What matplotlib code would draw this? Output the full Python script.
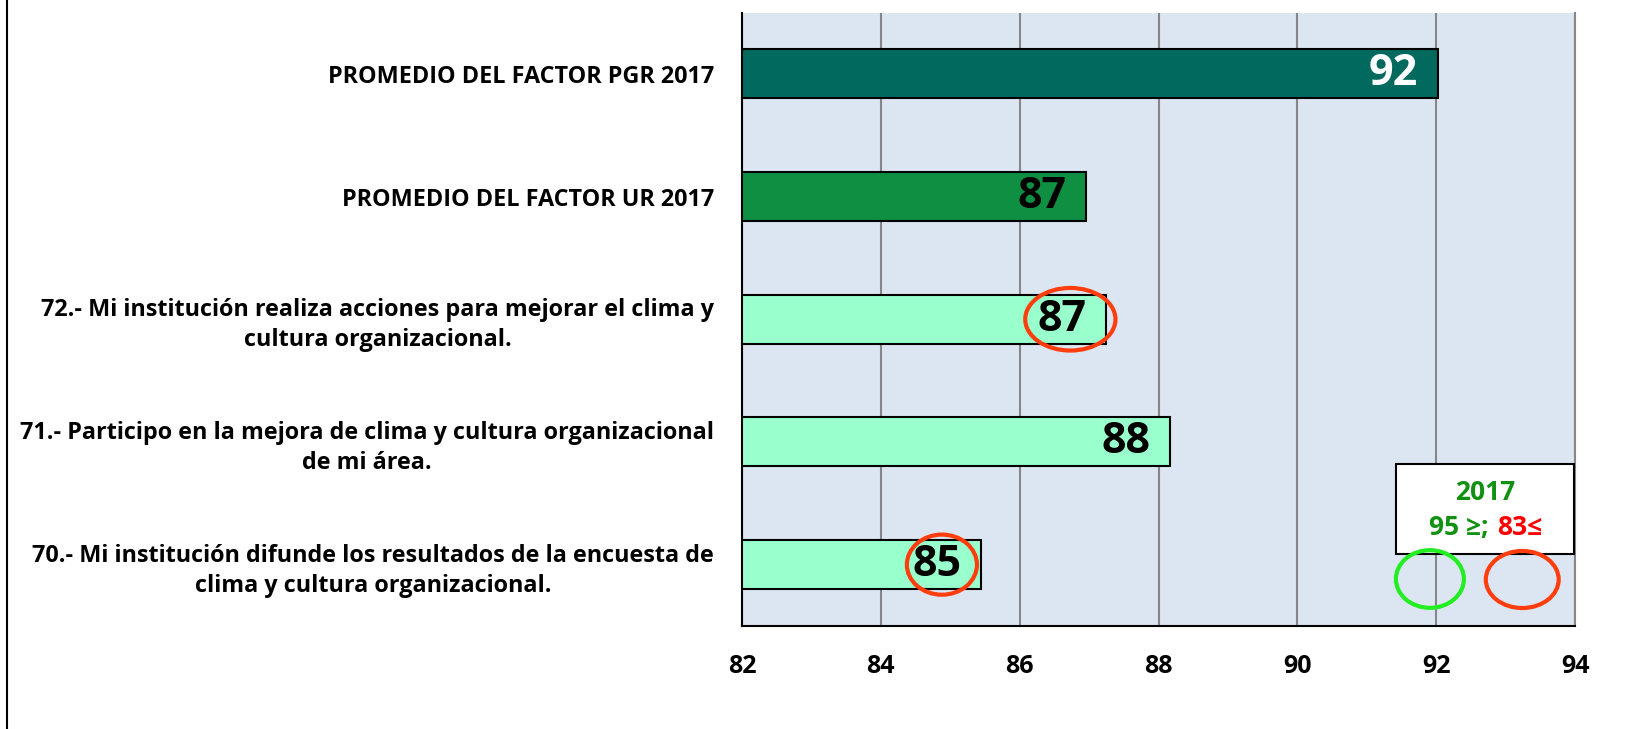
import matplotlib
matplotlib.use('Agg')
import matplotlib.pyplot as plt
from matplotlib.patches import Ellipse, Rectangle
from matplotlib.lines import Line2D

plt.rcParams['font.family'] = ['Open Sans', 'DejaVu Sans']
plt.rcParams['font.weight'] = 'bold'

# data, top to bottom as in the chart
categories = ['PROMEDIO DEL FACTOR PGR 2017',
              'PROMEDIO DEL FACTOR UR 2017',
              '72.- Mi institución realiza acciones para mejorar el clima y\ncultura organizacional.',
              '71.- Participo en la mejora de clima y cultura organizacional\nde mi área.',
              '70.- Mi institución difunde los resultados de la encuesta de\nclima y cultura organizacional.']
values = [92.02, 86.95, 87.25, 88.17, 85.45]
value_labels = ['92', '87', '87', '88', '85']
flagged = [False, False, True, False, True]
xticks = [82, 84, 86, 88, 90, 92, 94]

bar_colors = ['#02695F', '#0E8F41', '#99FFCC', '#99FFCC', '#99FFCC']
label_colors = ['white', 'black', 'black', 'black', 'black']

fig = plt.figure(figsize=(16.28, 7.29), dpi=100)
ax = fig.add_axes([742/1628, 1-626/729, (1575-742)/1628, (626-12.5)/729])
ax.set_facecolor('#DCE6F2')

ypos = [4, 3, 2, 1, 0]
ax.barh(ypos, [v - 82 for v in values], left=82, height=0.4,
        color=bar_colors, edgecolor='black', linewidth=1.5, zorder=3)

for y, v, lab, c in zip(ypos, values, value_labels, label_colors):
    ax.annotate(lab, (v, y), xytext=(-14, 0), textcoords='offset points',
                ha='right', va='center', fontsize=31, fontweight='bold',
                color=c, zorder=5)

# red rings around flagged values
ring_sizes = {2: (1.30, 0.51, 0.52), 0: (1.01, 0.49, 0.57)}
for y, v, f in zip(ypos, values, flagged):
    if f:
        w, h, off = ring_sizes[y]
        ax.add_patch(Ellipse((v - off, y), w, h, fill=False,
                             edgecolor='#FF3D0D', linewidth=3, zorder=6))

ax.set_xlim(82, 94)
ax.set_ylim(-0.5, 4.5)
ax.set_xticks(xticks)
ax.set_xticklabels([str(t) for t in xticks])
ax.set_yticks(ypos)
ax.set_yticklabels(categories, linespacing=1.33)
for lbl in ax.get_yticklabels():
    lbl.set_multialignment('center')
ax.tick_params(axis='y', length=0, pad=20, labelsize=16.8)
ax.tick_params(axis='x', length=0, pad=20, labelsize=18)

ax.xaxis.grid(True, color='#868686', linewidth=1.5, zorder=0)
ax.set_axisbelow(True)
ax.spines['top'].set_visible(False)
ax.spines['right'].set_color('#868686')
ax.spines['right'].set_linewidth(1.5)
ax.spines['left'].set_linewidth(1.5)
ax.spines['bottom'].set_linewidth(1.5)

# threshold legend box
ax.add_patch(Rectangle((91.42, 0.087), 93.99 - 91.42, 0.733, facecolor='white',
                       edgecolor='black', linewidth=1.5, zorder=7))
ax.text(92.70, 0.592, '2017', ha='center', va='center', fontsize=19,
        fontweight='bold', color='#119111', zorder=8)
ax.text(92.75, 0.299, '95 ≥;', ha='right', va='center', fontsize=19,
        fontweight='bold', color='#119111', zorder=8)
ax.text(92.88, 0.299, '83≤', ha='left', va='center', fontsize=19,
        fontweight='bold', color='#FF0000', zorder=8)
ax.add_patch(Ellipse((91.91, -0.117), 0.98, 0.47, fill=False,
                     edgecolor='#22EE22', linewidth=3, zorder=8))
ax.add_patch(Ellipse((93.24, -0.121), 1.05, 0.465, fill=False,
                     edgecolor='#FF3D0D', linewidth=3, zorder=8))

fig.add_artist(Line2D([7/1628, 7/1628], [0, 1], transform=fig.transFigure,
                      color='black', linewidth=1.5))

fig.savefig('out.png', dpi=100)
